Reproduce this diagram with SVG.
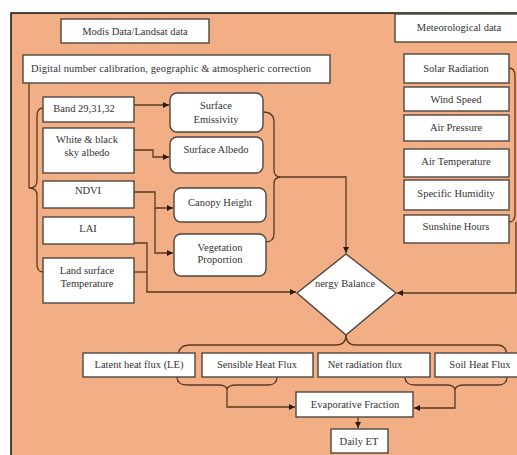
<svg xmlns="http://www.w3.org/2000/svg" width="517" height="455" viewBox="0 0 517 455">
<defs>
<style>
.bx{fill:#fff;stroke:#4f463f;stroke-width:1.4}
.t{font-family:"Liberation Serif",serif;font-size:10.5px;fill:#333;text-anchor:middle}
.c{fill:none;stroke:#5a3a22;stroke-width:1.3}
</style>
<marker id="ah" viewBox="0 0 8 8" refX="8" refY="4" markerWidth="6" markerHeight="6" orient="auto" markerUnits="userSpaceOnUse">
<path d="M0,0 L8,4 L0,8 z" fill="#2a1a10"/>
</marker>
</defs>
<rect x="0" y="0" width="517" height="455" fill="#fff"/>
<rect x="11" y="13" width="510" height="446" fill="#F2AF85" stroke="#111" stroke-width="1.5"/>

<g id="connectors">
<path class="c" d="M29,83 L29,188"/>
<path class="c" d="M43,108 Q37,108 37,116 L37,181 Q37,188 29,188 Q37,188 37,195 L37,264 Q37,272 43,272"/>
<path class="c" d="M134,105 L169,105" marker-end="url(#ah)"/>
<path class="c" d="M134,150 L153,150 L153,157 L169,157" marker-end="url(#ah)"/>
<path class="c" d="M134,192 L155,192 L155,208 L173,208" marker-end="url(#ah)"/>
<path class="c" d="M155,208 L155,253 L173,253" marker-end="url(#ah)"/>
<path class="c" d="M134,243 L147,243 L147,292 L296,292" marker-end="url(#ah)"/>
<path class="c" d="M134,272 L147,272"/>
<path class="c" d="M263,112 Q274,112 274,122 L274,170 Q274,177 281,177 Q274,177 274,184 L274,234 Q274,242 265,242"/>
<path class="c" d="M281,177 L346,177 L346,253" marker-end="url(#ah)"/>
<path class="c" d="M509,68 Q515,68 515,76 L515,214 Q515,222 509,222"/>
<path class="c" d="M516,222 L516,293 L397,293" marker-end="url(#ah)"/>
<path class="c" d="M178,357 Q178,345 190,345 L336,345 Q346,345 346,335 Q346,345 356,345 L497,345 Q507,345 507,357"/>
<path class="c" d="M177,377 Q177,385 187,385 L218,385 Q227,385 227,390 Q227,385 237,385 L268,385 Q277,385 277,377"/>
<path class="c" d="M227,390 L227,407 L295,407" marker-end="url(#ah)"/>
<path class="c" d="M405,377 Q405,385 415,385 L446,385 Q455,385 455,390 Q455,385 465,385 L498,385 Q507,385 507,377"/>
<path class="c" d="M455,390 L455,408 L414,408" marker-end="url(#ah)"/>
<path class="c" d="M358,417 L358,428" marker-end="url(#ah)"/>
</g>

<g id="modis"><rect class="bx" x="61" y="19" width="148" height="24"/><text class="t" x="135" y="35">Modis Data/Landsat data</text></g>
<g id="meteo"><rect class="bx" x="395" y="14" width="130" height="28"/><text class="t" x="459" y="31">Meteorological data</text></g>
<g id="calib"><rect class="bx" x="23" y="55" width="307" height="28"/><text class="t" x="31" y="72" style="text-anchor:start" textLength="280" lengthAdjust="spacing">Digital number calibration, geographic  &amp; atmospheric correction</text></g>

<g id="band"><rect class="bx" x="43" y="97" width="91" height="25"/><text class="t" x="84" y="112">Band 29,31,32</text></g>
<g id="albedo-in"><rect class="bx" x="43" y="128" width="91" height="45"/><text class="t" x="87" y="143">White &amp; black</text><text class="t" x="87" y="156">sky albedo</text></g>
<g id="ndvi"><rect class="bx" x="43" y="181" width="91" height="27"/><text class="t" x="88" y="194">NDVI</text></g>
<g id="lai"><rect class="bx" x="43" y="217" width="91" height="27"/><text class="t" x="88" y="232">LAI</text></g>
<g id="lst"><rect class="bx" x="43" y="258" width="91" height="45"/><text class="t" x="87" y="274">Land surface</text><text class="t" x="87" y="287">Temperature</text></g>

<g id="emis"><rect class="bx" x="170" y="93" width="93" height="39" rx="7"/><text class="t" x="216" y="109">Surface</text><text class="t" x="216" y="123">Emissivity</text></g>
<g id="salb"><rect class="bx" x="170" y="137" width="93" height="36" rx="7"/><text class="t" x="216" y="153">Surface  Albedo</text></g>
<g id="canopy"><rect class="bx" x="174" y="188" width="92" height="34" rx="7"/><text class="t" x="220" y="206">Canopy Height</text></g>
<g id="vegprop"><rect class="bx" x="174" y="234" width="92" height="42" rx="7"/><text class="t" x="220" y="251">Vegetation</text><text class="t" x="220" y="263">Proportion</text></g>

<g id="solar"><rect class="bx" x="404" y="54" width="105" height="29"/><text class="t" x="456" y="72">Solar Radiation</text></g>
<g id="wind"><rect class="bx" x="404" y="87" width="105" height="24"/><text class="t" x="456" y="103">Wind Speed</text></g>
<g id="press"><rect class="bx" x="404" y="115" width="105" height="26"/><text class="t" x="456" y="131">Air Pressure</text></g>
<g id="airt"><rect class="bx" x="404" y="149" width="105" height="28"/><text class="t" x="456" y="165">Air Temperature</text></g>
<g id="hum"><rect class="bx" x="404" y="180" width="105" height="30"/><text class="t" x="456" y="197">Specific Humidity</text></g>
<g id="sun"><rect class="bx" x="404" y="215" width="105" height="28"/><text class="t" x="456" y="230">Sunshine Hours</text></g>

<g id="balance"><polygon class="bx" points="346,254 396,293 346,335 297,293"/><text class="t" x="345" y="287">nergy Balance</text></g>

<g id="latent"><rect class="bx" x="83" y="353" width="112" height="24"/><text class="t" x="139" y="368">Latent heat flux (LE)</text></g>
<g id="sensible"><rect class="bx" x="202" y="353" width="111" height="24"/><text class="t" x="257" y="368">Sensible  Heat Flux</text></g>
<g id="netrad"><rect class="bx" x="318" y="353" width="112" height="24"/><text class="t" x="365" y="368">Net radiation flux</text></g>
<g id="soil"><rect class="bx" x="435" y="353" width="90" height="24"/><text class="t" x="480" y="368">Soil Heat Flux</text></g>

<g id="evap"><rect class="bx" x="296" y="392" width="117" height="25"/><text class="t" x="355" y="408">Evaporative Fraction</text></g>
<g id="daily"><rect class="bx" x="331" y="429" width="57" height="24"/><text class="t" x="359" y="445">Daily ET</text></g>
</svg>
